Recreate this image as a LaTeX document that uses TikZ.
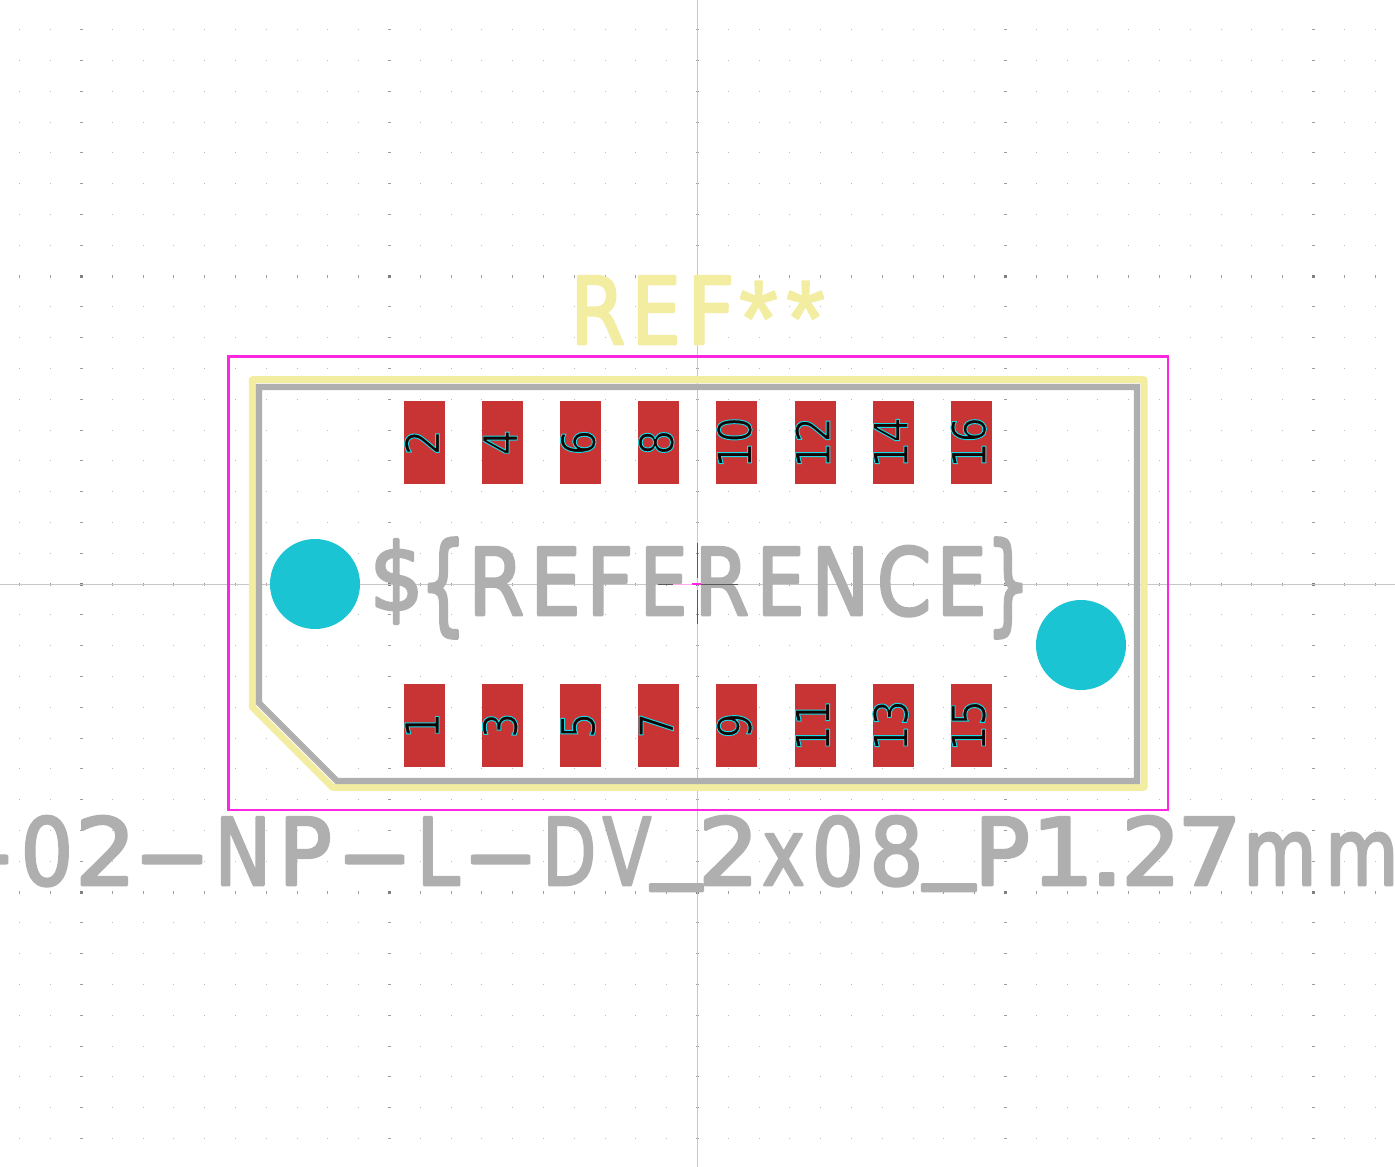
\documentclass[tikz,border=0pt]{standalone}
\usepackage{fontspec}
\setmainfont{Liberation Sans}
\newfontfamily\bigfont[FakeBold=3]{DejaVu Sans}
\newfontfamily\starfont[FakeBold=2]{Liberation Sans}
\newfontfamily\padfont[FakeStretch=0.85,FakeBold=2]{DejaVu Sans}
\definecolor{silk}{HTML}{F2EDA1}
\definecolor{fab}{HTML}{AFAFAF}
\definecolor{court}{HTML}{FF26E2}
\definecolor{copper}{HTML}{C83434}
\definecolor{hole}{HTML}{1AC4D2}
\def\fsz{95}
% glyph placed by its ink: left, right, left bearing (em), ink width (em), y scale, raise, char
\newcommand{\GatE}[7]{%
 \pgfmathsetmacro{\gs}{(#2-#1-1.5)/(#4*\fsz)}%
 \pgfmathsetmacro{\gp}{#1+0.75-#3*\fsz*\gs}%
 \makebox[0pt][l]{\hspace*{\gp pt}\raisebox{#6pt}{\scalebox{\gs}[#5]{#7}}}}
\newcommand{\Gat}[5]{\GatE{#1}{#2}{#3}{#4}{1}{0}{#5}}
\newcommand{\pd}[1]{\hspace*{-5pt}\special{pdf:code 0.1 0.85 0.9 RG}\rotatebox{90}{#1}}
\tikzset{
 x=1pt,y=-1pt,
 cross/.style={draw=black!22,line width=1pt},
 padbox/.style={fill=copper,minimum width=41pt,minimum height=83pt,inner sep=0pt,outer sep=0pt,
   font=\fontsize{47}{47}\selectfont\padfont,text=black!90!copper},
 npth/.style={circle,fill=hole,minimum size=90pt,inner sep=0pt},
 bigtext/.style={inner sep=0pt,outer sep=0pt,anchor=base west,font=\fontsize{93}{93}\selectfont\bigfont},
}
\begin{document}
\begin{tikzpicture}[line join=round,line cap=round]
\useasboundingbox (0,0) rectangle (1395,1167);
\clip (0,0) rectangle (1395,1167);
\fill[white] (0,0) rectangle (1395,1167);
% grid
\foreach \i in {-22,...,22}{\foreach \j in {-18,...,18}{
  \pgfmathsetmacro{\gx}{697.5+30.8*\i}
  \pgfmathsetmacro{\gy}{584+30.8*\j}
  \pgfmathtruncatemacro{\mi}{mod(abs(\i),10)==0}
  \pgfmathtruncatemacro{\mj}{mod(abs(\j),10)==0}
  \pgfmathsetmacro{\hw}{\mi>0?1.5:0.5}
  \pgfmathsetmacro{\hh}{\mj>0?1.5:0.5}
  \pgfmathtruncatemacro{\gk}{26+12*(\mi+\mj)}
  \fill[black!\gk] (\gx-\hw,\gy-\hh) rectangle (\gx+\hw,\gy+\hh);
}}
% axes
\coordinate (axT) at (697.5,0);\coordinate (axB) at (697.5,1167);
\coordinate (axL) at (0,584);\coordinate (axR) at (1395,584);
\draw[cross,line cap=butt] (axT)--(axB);
\draw[cross,line cap=butt] (axL)--(axR);
% courtyard
\draw[court,line width=2.5pt,line join=miter] (228.5,356.5) rectangle (1168,810);
% silk
\draw[silk,line width=7pt] (252.3,379.7)--(1144,379.7)--(1144,787.3)--(332.6,787.3)--(252.3,707)--cycle;
% fab
\draw[fab,line width=6.3pt,line join=miter] (259,387)--(1137,387)--(1137,781)--(337,781)--(259,703)--cycle;
% pads
\foreach \n/\x in {2/424.5,4/502.6,6/580.7,8/658.8,10/736.9,12/815,14/893.1,16/971.2}{
  \node[padbox] (p\n) at (\x,442.5) {\pd{\n}};
}
\foreach \n/\x in {1/424.5,3/502.6,5/580.7,7/658.8,9/736.9,11/815,13/893.1,15/971.2}{
  \node[padbox] (p\n) at (\x,725.5) {\pd{\n}};
}
% holes
\node[npth] (h1) at (315,584) {};
\node[npth] (h2) at (1081,645) {};
% texts
\node[bigtext,text=silk] (ref) at (0,344) {%
 \Gat{577}{621}{.098}{.527}{R}\Gat{638}{677}{.098}{.47}{E}\Gat{694}{732}{.098}{.43}{F}%
 \GatE{741}{779}{.03}{.36}{1.15}{-11}{\starfont *}\GatE{788}{826}{.03}{.36}{1.15}{-11}{\starfont *}};
\node[bigtext,text=fab] (val) at (0,615) {%
 \GatE{373}{418}{.055}{.5}{1}{5}{\$}\GatE{432}{461}{.18}{.36}{1.17}{-5.5}{\{}%
 \Gat{475}{520}{.098}{.527}{R}\Gat{537}{577}{.098}{.47}{E}\Gat{593}{631}{.098}{.43}{F}\Gat{646}{684}{.098}{.47}{E}%
 \Gat{701}{745}{.098}{.527}{R}\Gat{763}{801}{.098}{.47}{E}\Gat{818}{863}{.098}{.552}{N}\Gat{880}{927}{.056}{.57}{C}\Gat{943}{983}{.098}{.47}{E}%
 \GatE{994}{1024}{.13}{.4}{1.17}{-5.5}{\}}};
\node[bigtext,text=fab] (name) at (0,885) {%
 \Gat{-49}{7}{.049}{.263}{-}\Gat{25}{69}{.066}{.504}{0}\Gat{81}{128}{.073}{.463}{2}\Gat{144}{201}{.049}{.263}{-}%
 \Gat{221}{265}{.098}{.552}{N}\Gat{286}{330}{.098}{.47}{P}\Gat{347}{403}{.049}{.263}{-}\Gat{423}{461}{.098}{.46}{L}\Gat{473}{529}{.049}{.263}{-}%
 \Gat{548}{593}{.098}{.607}{D}\Gat{602}{652}{.008}{.668}{V}\GatE{649}{704}{-.01}{.52}{1}{16}{\_}%
 \Gat{704}{751}{.073}{.463}{2}\Gat{763}{804}{.029}{.534}{x}\Gat{816}{860}{.066}{.504}{0}\Gat{874}{919}{.068}{.5}{8}\GatE{921}{977}{-.01}{.52}{1}{16}{\_}%
 \Gat{982}{1028}{.098}{.47}{P}\Gat{1041}{1085}{.11}{.42}{1}\Gat{1100}{1114}{.107}{.107}{.}\Gat{1127}{1173}{.073}{.463}{2}\Gat{1184}{1234}{.082}{.459}{7}%
 \Gat{1249}{1312}{.091}{.8}{m}\Gat{1331}{1394}{.091}{.8}{m}};
% origin cross
\draw[black!65,line width=1pt,line cap=butt] (697.5,543)--(697.5,578) (697.5,590)--(697.5,624);
\draw[black!65,line width=1pt,line cap=butt] (658,584)--(673,584) (701,584)--(738,584);
\draw[court!40,line width=1pt,line cap=butt] (673,584)--(692,584);
\draw[court,line width=1.5pt,line cap=butt] (692,584)--(701,584);
\end{tikzpicture}
\end{document}
